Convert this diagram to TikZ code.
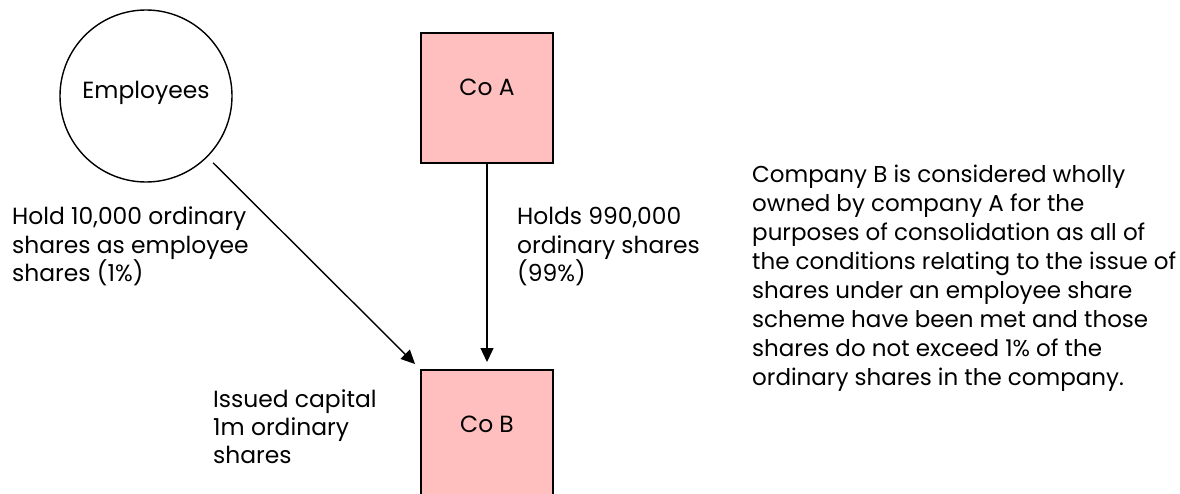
\documentclass[tikz,border=0pt]{standalone}
\usepackage{fontspec}
\setmainfont{Poppins}
\usetikzlibrary{arrows.meta}
\definecolor{boxpink}{RGB}{255,191,191}
\begin{document}
\begin{tikzpicture}[x=1pt,y=-1pt,
  % multi-line notes are anchored at the baseline of their last line
  txt/.style={font=\fontsize{23.4}{28}\selectfont, align=left, anchor=base west, inner sep=0pt},
  company/.style={draw=black, line width=2pt, fill=boxpink, minimum width=132pt,
    minimum height=130pt, inner sep=0pt, text depth=22pt, font=\fontsize{23.4}{27}\selectfont},
  holder/.style={draw=black, line width=1.4pt, circle, minimum size=172pt, inner sep=0pt,
    text depth=12pt, font=\fontsize{23.4}{27}\selectfont},
  link/.style={line width=1.4pt, -{Triangle[length=14pt,width=13pt]}}]
\useasboundingbox (0,0) rectangle (1180,494);
\begin{scope}
\clip (0,0) rectangle (1180,494);
% parties
\node[holder]  (emp) at (146,96)  {Employees};
\node[company] (coa) at (487,98)  {Co A};
\node[company] (cob) at (487,435) {Co B};
% shareholdings
\draw[link, shorten <=8pt, shorten >=7pt] (emp) -- (cob.north west);
\draw[link, shorten >=7pt] (coa.south) -- (cob.north -| coa.south);
% notes
\node[txt] (empnote) at (12,281) {Hold 10,000 ordinary\\shares as employee\\shares (1\%)};
\node[txt] (coanote) at (517,281) {Holds 990,000\\ordinary shares\\(99\%)};
\node[txt] (cobnote) at (213,463) {Issued capital\\1m ordinary\\shares};
\node[txt, font=\fontsize{23}{29}\selectfont] (remark) at (752,385)
  {Company B is considered wholly\\owned by company A for the\\purposes of consolidation as all of\\the conditions relating to the issue of\\shares under an employee share\\scheme have been met and those\\shares do not exceed 1\% of the\\ordinary shares in the company.};
\end{scope}
\end{tikzpicture}
\end{document}
